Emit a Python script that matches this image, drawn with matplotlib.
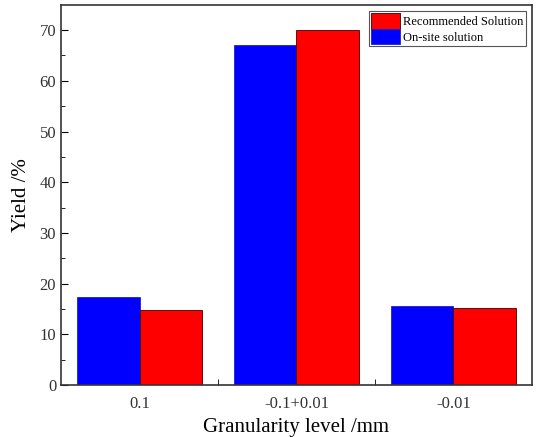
import matplotlib.pyplot as plt
import numpy as np

categories = ['0.1', '-0.1+0.01', '-0.01']
onsite = [17.3, 67.0, 15.6]
recommended = [14.8, 70.0, 15.1]

plt.rcParams['font.family'] = 'Liberation Serif'

fig = plt.figure(figsize=(5.4, 4.37), dpi=100)
ax = fig.add_axes([0.113, 0.119, 0.872, 0.870])

x = np.arange(len(categories))
w = 0.4
b1 = ax.bar(x - w / 2, onsite, w, color='blue', edgecolor='#2020c0', linewidth=0.6, label='On-site solution')
b2 = ax.bar(x + w / 2, recommended, w, color='red', edgecolor='#400000', linewidth=0.6, label='Recommended Solution')

ax.set_xlim(-0.5, 2.5)
ax.set_ylim(0, 75)
ax.set_xticks(x)
ax.set_xticklabels(categories)
ax.set_xticks([0.5, 1.5], minor=True)
ax.set_yticks(np.arange(0, 71, 10))
ax.set_yticks(np.arange(5, 75, 10), minor=True)
ax.tick_params(axis='x', which='major', length=0, labelsize=12, pad=8, labelcolor='#333333')
ax.tick_params(axis='x', which='minor', direction='in', length=4)
ax.tick_params(axis='y', which='major', direction='in', length=5, labelsize=12, labelcolor='#333333')
ax.tick_params(axis='y', which='minor', direction='in', length=3)
for s in ax.spines.values():
    s.set_linewidth(1.2)
    s.set_color('#333333')

ax.set_xlabel('Granularity level /mm', fontsize=15, labelpad=4)
ax.set_ylabel('Yield /%', fontsize=15, labelpad=6)

leg = ax.legend([b2, b1], ['Recommended Solution', 'On-site solution'], loc='upper right',
                fontsize=9, fancybox=False, edgecolor='#555555', framealpha=1,
                handlelength=2.3, handleheight=1.55, labelspacing=0.0, handletextpad=0.3,
                borderpad=0.15, borderaxespad=0.5)
leg.get_frame().set_linewidth(0.8)

fig.savefig('out.png', dpi=100)
